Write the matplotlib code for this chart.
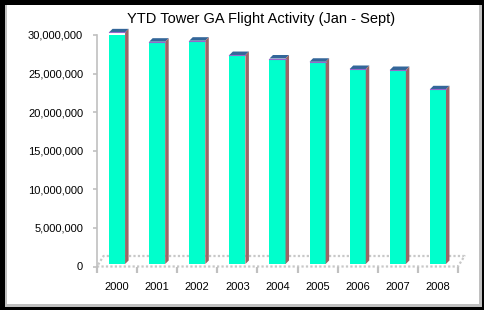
import numpy as np
import matplotlib
matplotlib.use("Agg")
import matplotlib.pyplot as plt
from matplotlib.patches import Rectangle
from matplotlib.ticker import FuncFormatter

plt.rcParams['font.family'] = ['Liberation Sans', 'DejaVu Sans']

# data
years = ['2000', '2001', '2002', '2003', '2004', '2005', '2006', '2007', '2008']
operations = [30020000, 28810000, 28940000, 27080000, 26630000,
              26210000, 25270000, 25140000, 22640000]
title = 'YTD Tower GA Flight Activity (Jan - Sept)'

W, H = 485, 310
fig = plt.figure(figsize=(W / 100, H / 100), dpi=100, facecolor='black')

# chart frame: grey shadow edge + white area
fig.add_artist(Rectangle((5 / W, (H - 307) / H), 477 / W, 302 / H,
                         transform=fig.transFigure, facecolor='#c0c0c0',
                         edgecolor='none', zorder=0))
fig.add_artist(Rectangle((7 / W, (H - 304) / H), 472 / W, 299 / H,
                         transform=fig.transFigure, facecolor='white',
                         edgecolor='none', zorder=0))

ax = fig.add_axes([97 / W, (H - 266.5) / H, 361 / W, 231.5 / H])
ax.set_facecolor('none')
ax.set_xlim(-0.5, len(years) - 0.5)
ax.set_ylim(0, 30e6)

px_x = 1 / (361 / len(years))       # data units per pixel, x
px_y = 30e6 / 231.5                  # data units per pixel, y

x = np.arange(len(years))
vals = np.array(operations, dtype=float)
w = 0.4
lift = 2.5 * px_y
dxb, dyb = 3.5 * px_x, 3.5 * px_y
dxf, dyf = 6.5 * px_x, 10.5 * px_y

grey = '#c0c0c0'

# floor
x0, x1 = -0.5, len(years) - 0.5
ax.plot([x0, x1, x1 + dxf, x0 + dxf, x0], [0, 0, dyf, dyf, 0],
        color='#c8c8c8', lw=1.6, ls=(0, (1, 1)), clip_on=False, zorder=1)

# bars: front face, top and right side
ax.bar(x, vals, w, bottom=lift, color='#00FFCC', edgecolor='none', zorder=3)
for xi, v in zip(x, vals):
    xl, xr = xi - w / 2, xi + w / 2
    top = lift + v
    ax.fill([xl, xr, xr + dxb, xl + dxb], [top, top, top + dyb, top + dyb],
            color='#336699', lw=0, zorder=3, clip_on=False)
    ax.fill([xr, xr, xr + dxb, xr + dxb], [lift, top, top + dyb, lift + dyb],
            color='#996666', lw=0, zorder=3, clip_on=False)
    ax.plot([xl, xr], [top, top], color='#9966cc', lw=0.8, zorder=4,
            clip_on=False)

# axes styling
for s in ['top', 'right', 'bottom']:
    ax.spines[s].set_visible(False)
ax.spines['left'].set_color(grey)
ax.spines['left'].set_linewidth(1.2)
ax.plot([x0, x0], [0, -4.5 * px_y], color=grey, lw=1.2, clip_on=False)

ax.set_yticks(np.arange(0, 30e6 + 1, 5e6))
ax.yaxis.set_major_formatter(FuncFormatter(lambda v, p: '{:,.0f}'.format(v)))
ax.tick_params(axis='y', length=3, width=1.2, color=grey, pad=7,
               labelsize=8, labelcolor='black')

ax.set_xticks(x)
ax.set_xticklabels(years)
ax.set_xticks(np.arange(len(years) + 1) - 0.5, minor=True)
ax.tick_params(axis='x', which='major', length=0, pad=11, labelsize=8)
ax.tick_params(axis='x', which='minor', length=4, width=1.6, color=grey)

fig.text(261.5 / W, (H - 19) / H, title, ha='center', va='center',
         fontsize=10.5, color='black')

fig.savefig('out.png', dpi=100, facecolor='black')
